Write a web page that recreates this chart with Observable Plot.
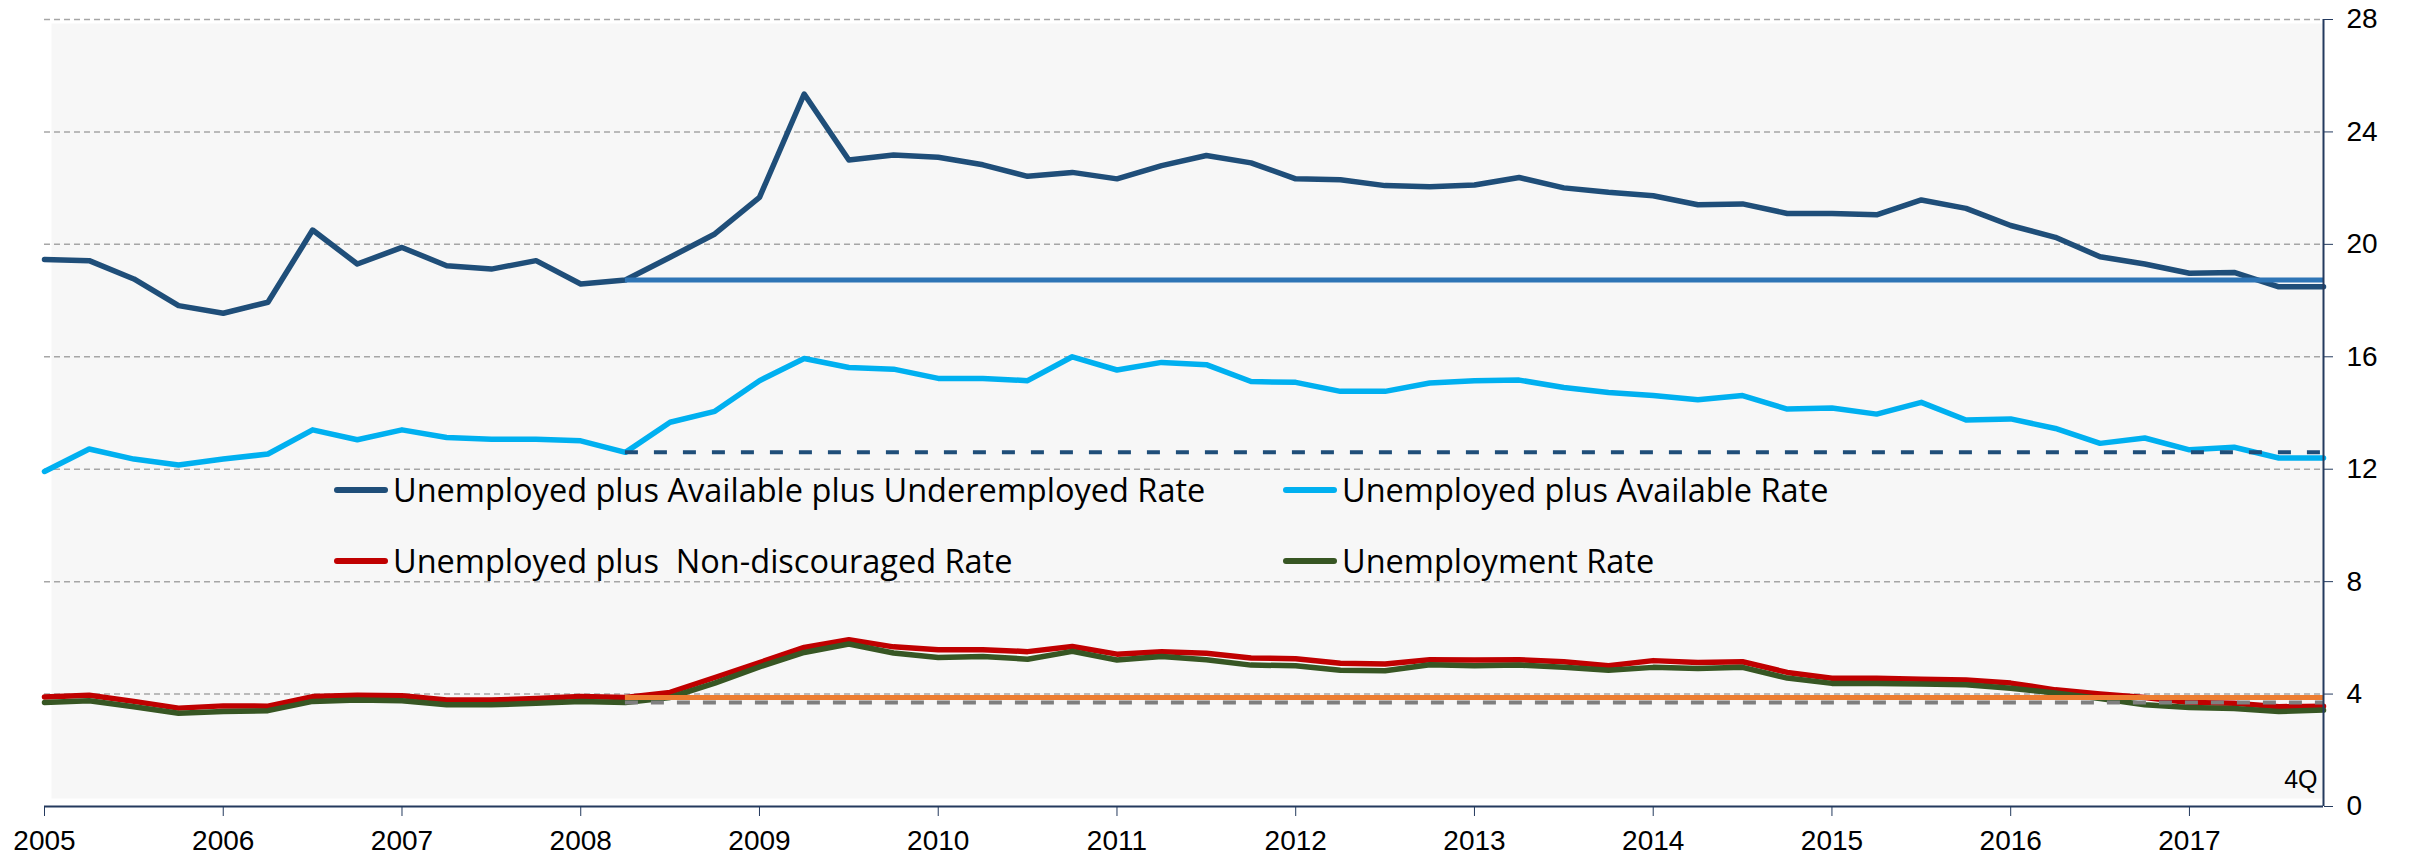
<!DOCTYPE html>
<html><head><meta charset="utf-8">
<script src="https://cdn.jsdelivr.net/npm/d3@7"></script>
<script src="https://cdn.jsdelivr.net/npm/@observablehq/plot@0.6"></script>
<style>
body{margin:0;background:#fff;font-family:"Liberation Sans",Arial,sans-serif;}
#wrap{position:relative;width:2412px;height:861px;}
.leg{position:absolute;height:40px;display:flex;align-items:center;font-family:"Open Sans",sans-serif;font-size:32.5px;color:#000;white-space:pre;line-height:1;}
.sw{display:inline-block;width:54px;height:6px;border-radius:3px;margin-right:5px;}
</style></head><body><div id="wrap"></div>
<script>
// ---- data ----
const years = [2005,2006,2007,2008,2009,2010,2011,2012,2013,2014,2015,2016,2017];
const quarterLabel = "4Q";
const seriesNames = [
  "Unemployed plus Available plus Underemployed Rate",
  "Unemployed plus Available Rate",
  "Unemployed plus  Non-discouraged Rate",
  "Unemployment Rate"
];
const seriesColors = ["#1f4e79", "#00b0f0", "#c00000", "#375623"];
const underemployed = [
  19.46,19.42,18.77,17.82, 17.55,17.94,20.51,19.30, 19.89,19.24,19.12,19.42,
  18.59,18.73,19.54,20.37, 21.67,25.35,23.00,23.18, 23.10,22.83,22.42,22.56,
  22.33,22.80,23.16,22.90, 22.33,22.30,22.09,22.05, 22.11,22.38,22.01,21.85,
  21.73,21.41,21.44,21.10, 21.10,21.05,21.58,21.28, 20.67,20.25,19.56,19.30,
  18.97,19.00,18.49,18.49
];
const available = [
  11.92,12.72,12.36,12.15, 12.36,12.54,13.40,13.05, 13.40,13.13,13.07,13.07,
  13.01,12.60,13.67,14.06, 15.15,15.94,15.62,15.56, 15.23,15.23,15.15,16.00,
  15.53,15.80,15.72,15.12, 15.09,14.77,14.77,15.07, 15.15,15.17,14.91,14.73,
  14.62,14.47,14.62,14.14, 14.18,13.96,14.38,13.75, 13.79,13.45,12.92,13.11,
  12.69,12.78,12.40,12.40
];
const nonDiscouraged = [
  3.90,3.96,3.74,3.50, 3.58,3.57,3.91,3.96, 3.94,3.79,3.79,3.84,
  3.91,3.88,4.06,4.59, 5.12,5.66,5.93,5.68, 5.58,5.58,5.51,5.69,
  5.42,5.51,5.45,5.28, 5.26,5.10,5.07,5.22, 5.21,5.22,5.15,5.01,
  5.19,5.12,5.15,4.77, 4.56,4.56,4.53,4.50, 4.39,4.15,4.00,3.88,
  3.70,3.67,3.55,3.57
];
const unemployment = [
  3.70,3.76,3.55,3.32, 3.38,3.41,3.74,3.79, 3.76,3.62,3.62,3.67,
  3.74,3.70,3.88,4.39, 4.97,5.48,5.78,5.46, 5.30,5.34,5.24,5.52,
  5.21,5.34,5.22,5.03, 5.01,4.85,4.83,5.04, 5.01,5.03,4.95,4.85,
  4.95,4.91,4.95,4.57, 4.38,4.38,4.36,4.33, 4.21,4.04,3.84,3.62,
  3.52,3.49,3.38,3.43
];
const yTicks = [0,4,8,12,16,20,24,28];
const refStartLabel = 2008.25; // 2008 Q2 pre-crisis level
const refStyles = [
  {stroke:"#2e75b6", strokeWidth:5, dash:null},
  {stroke:"#1f4e79", strokeWidth:4, dash:"13,16"},
  {stroke:"#ed7d31", strokeWidth:5, dash:null},
  {stroke:"#7f7f7f", strokeWidth:4, dash:"13,13"}
];

// ---- build table ----
const dates = years.flatMap(y => [0,1,2,3].map(q => y + q/4));
const allSeries = [underemployed, available, nonDiscouraged, unemployment];
const rows = allSeries.flatMap((vals, i) => vals.map((v, j) => ({series: seriesNames[i], date: dates[j], value: v})));
const lastDate = dates[dates.length - 1];
const baseIdx = dates.indexOf(refStartLabel);
const refs = allSeries.map((vals, i) => ({series: seriesNames[i], value: vals[baseIdx], ...refStyles[i]}));
const axisColor = "#243a5e";

const marks = [
  Plot.frame({fill:"#f7f7f7", stroke:null, insetLeft:7, insetTop:4, insetBottom:8}),
  Plot.ruleY(yTicks.filter(d => d > 0), {stroke:"#a6a6a6", strokeWidth:1.5, strokeDasharray:"6,4"}),
];
seriesNames.forEach((name, i) => {
  marks.push(Plot.line(rows.filter(r => r.series === name), {
    x:"date", y:"value", stroke: seriesColors[i], strokeWidth:5.5, strokeLinejoin:"round"
  }));
});
refs.forEach(r => {
  marks.push(Plot.ruleY([r], {y:"value", x1: refStartLabel, x2: lastDate, stroke: r.stroke,
    strokeWidth: r.strokeWidth, strokeDasharray: r.dash ?? undefined}));
});
marks.push(
  Plot.ruleX([lastDate], {stroke: axisColor, strokeWidth: 2}),
  Plot.ruleY([0], {stroke: axisColor, strokeWidth: 2}),
  Plot.axisX({ticks: years, tickFormat: d => String(d), tickSize: 10, tickPadding: 14,
    fontSize: 28, stroke: axisColor, fill: "#000", label: null}),
  Plot.axisY({anchor: "right", ticks: yTicks, tickSize: 9, tickPadding: 14,
    fontSize: 28, stroke: axisColor, fill: "#000", label: null}),
  Plot.text([quarterLabel], {x: () => lastDate, y: () => 0, dx: -6, dy: -27, textAnchor: "end", fontSize: 25, fill: "#000"})
);

const chart = Plot.plot({
  width: 2412, height: 861,
  marginLeft: 44, marginRight: 89, marginTop: 19, marginBottom: 55,
  x: {domain: [dates[0], lastDate]},
  y: {domain: [0, 28]},
  style: {fontFamily: '"Liberation Sans", Arial, sans-serif', fontSize: "28px", background: "#fff", color: "#000"},
  marks
});
const wrap = document.getElementById("wrap");
wrap.appendChild(chart);

// ---- legend (inside the plot area) ----
const legendPos = [[334, 470], [1283, 470], [334, 541], [1283, 541]];
seriesNames.forEach((name, i) => {
  const d = document.createElement("div");
  d.className = "leg";
  d.style.left = legendPos[i][0] + "px";
  d.style.top = legendPos[i][1] + "px";
  const sw = document.createElement("span");
  sw.className = "sw";
  sw.style.background = seriesColors[i];
  d.appendChild(sw);
  d.appendChild(document.createTextNode(name));
  wrap.appendChild(d);
});
</script></body></html>
